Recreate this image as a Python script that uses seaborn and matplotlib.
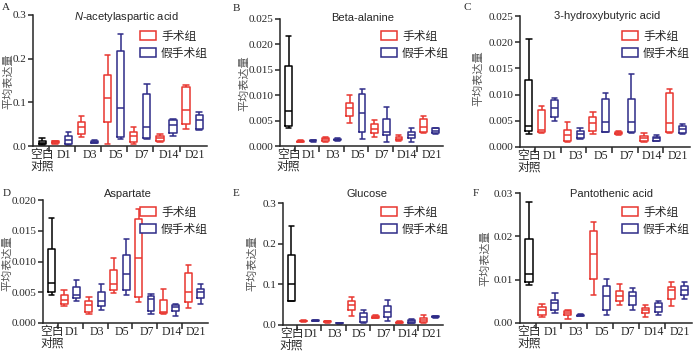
import numpy as np
import pandas as pd
import matplotlib
matplotlib.use("Agg")
import matplotlib.pyplot as plt
from matplotlib.patches import Patch
from matplotlib.ticker import FormatStrFormatter
import seaborn as sns

# categories
days = ["D1", "D3", "D5", "D7", "D14", "D21"]
ctrl_label = "空白\n对照"
groups = ["对照"] + ["手术组", "假手术组"] * 6
slots = ["ctrl"] + [d + g for d in days for g in ("_s", "_sham")]
ylabel = "平均表达量"
letters = ["A", "B", "C", "D", "E", "F"]
titles = ["$\\mathit{N}$-acetylaspartic acid", "Beta-alanine", "3-hydroxybutyric acid",
          "Aspartate", "Glucose", "Pantothenic acid"]

# box stats per slot: [min, q1, median, q3, max]
nacetyl = [
    [0.002, 0.004, 0.008, 0.011, 0.018],
    [0.005, 0.007, 0.009, 0.011, 0.012],
    [0.003, 0.005, 0.013, 0.022, 0.031],
    [0.021, 0.028, 0.044, 0.056, 0.068],
    [0.007, 0.008, 0.010, 0.012, 0.013],
    [0.004, 0.056, 0.110, 0.163, 0.209],
    [0.015, 0.021, 0.087, 0.217, 0.256],
    [0.005, 0.009, 0.024, 0.032, 0.044],
    [0.015, 0.018, 0.044, 0.118, 0.141],
    [0.009, 0.011, 0.018, 0.024, 0.028],
    [0.024, 0.030, 0.047, 0.060, 0.062],
    [0.040, 0.050, 0.082, 0.134, 0.140],
    [0.036, 0.040, 0.059, 0.072, 0.077],
]
beta = [
    [0.0036, 0.0040, 0.0069, 0.0158, 0.0217],
    [0.0007, 0.0008, 0.0009, 0.0010, 0.0011],
    [0.0008, 0.0009, 0.0010, 0.0011, 0.0012],
    [0.0007, 0.0010, 0.0013, 0.0016, 0.0018],
    [0.0009, 0.0011, 0.0012, 0.0014, 0.0016],
    [0.0046, 0.0059, 0.0074, 0.0085, 0.0100],
    [0.0013, 0.0028, 0.0064, 0.0103, 0.0113],
    [0.0018, 0.0025, 0.0034, 0.0043, 0.0052],
    [0.0008, 0.0022, 0.0028, 0.0053, 0.0076],
    [0.0010, 0.0012, 0.0014, 0.0018, 0.0022],
    [0.0008, 0.0015, 0.0022, 0.0028, 0.0035],
    [0.0025, 0.0027, 0.0038, 0.0054, 0.0059],
    [0.0023, 0.0025, 0.0029, 0.0035, 0.0036],
]
hydroxy = [
    [0.0024, 0.0031, 0.0040, 0.0128, 0.0206],
    [0.0026, 0.0028, 0.0032, 0.0071, 0.0079],
    [0.0050, 0.0058, 0.0074, 0.0090, 0.0093],
    [0.0010, 0.0012, 0.0023, 0.0032, 0.0047],
    [0.0015, 0.0018, 0.0024, 0.0031, 0.0036],
    [0.0025, 0.0031, 0.0045, 0.0058, 0.0067],
    [0.0028, 0.0029, 0.0048, 0.0092, 0.0103],
    [0.0023, 0.0025, 0.0027, 0.0029, 0.0031],
    [0.0026, 0.0029, 0.0047, 0.0092, 0.0139],
    [0.0010, 0.0012, 0.0017, 0.0021, 0.0027],
    [0.0011, 0.0012, 0.0017, 0.0020, 0.0022],
    [0.0026, 0.0028, 0.0045, 0.0104, 0.0111],
    [0.0025, 0.0026, 0.0034, 0.0040, 0.0043],
]
aspartate = [
    [0.0045, 0.0051, 0.0065, 0.0121, 0.0171],
    [0.0027, 0.0031, 0.0038, 0.0046, 0.0053],
    [0.0036, 0.0041, 0.0045, 0.0058, 0.0070],
    [0.0015, 0.0018, 0.0030, 0.0035, 0.0042],
    [0.0021, 0.0028, 0.0035, 0.0050, 0.0064],
    [0.0049, 0.0053, 0.0063, 0.0086, 0.0106],
    [0.0045, 0.0053, 0.0080, 0.0110, 0.0137],
    [0.0034, 0.0043, 0.0106, 0.0169, 0.0186],
    [0.0015, 0.0020, 0.0039, 0.0044, 0.0047],
    [0.0015, 0.0016, 0.0018, 0.0038, 0.0056],
    [0.0012, 0.0019, 0.0026, 0.0029, 0.0031],
    [0.0025, 0.0034, 0.0050, 0.0082, 0.0095],
    [0.0031, 0.0040, 0.0050, 0.0056, 0.0063],
]
glucose = [
    [0.058, 0.060, 0.100, 0.173, 0.243],
    [0.008, 0.009, 0.010, 0.011, 0.012],
    [0.009, 0.010, 0.011, 0.012, 0.012],
    [0.005, 0.008, 0.009, 0.010, 0.011],
    [0.003, 0.004, 0.004, 0.005, 0.005],
    [0.023, 0.037, 0.048, 0.058, 0.068],
    [0.004, 0.008, 0.019, 0.030, 0.037],
    [0.016, 0.018, 0.020, 0.022, 0.024],
    [0.011, 0.019, 0.033, 0.047, 0.062],
    [0.005, 0.006, 0.007, 0.008, 0.009],
    [0.004, 0.006, 0.010, 0.013, 0.015],
    [0.006, 0.007, 0.012, 0.018, 0.025],
    [0.017, 0.019, 0.020, 0.021, 0.022],
]
pantothenic = [
    [0.0087, 0.0095, 0.0113, 0.0193, 0.0279],
    [0.0014, 0.0018, 0.0029, 0.0037, 0.0043],
    [0.0023, 0.0029, 0.0046, 0.0054, 0.0069],
    [0.0010, 0.0018, 0.0024, 0.0028, 0.0031],
    [0.0016, 0.0017, 0.0018, 0.0019, 0.0020],
    [0.0064, 0.0101, 0.0159, 0.0213, 0.0233],
    [0.0018, 0.0029, 0.0063, 0.0085, 0.0102],
    [0.0041, 0.0050, 0.0063, 0.0073, 0.0090],
    [0.0031, 0.0041, 0.0063, 0.0072, 0.0080],
    [0.0014, 0.0023, 0.0029, 0.0035, 0.0041],
    [0.0018, 0.0026, 0.0037, 0.0046, 0.0050],
    [0.0039, 0.0056, 0.0076, 0.0084, 0.0094],
    [0.0056, 0.0064, 0.0076, 0.0085, 0.0095],
]
panels = [nacetyl, beta, hydroxy, aspartate, glucose, pantothenic]
ytops = [0.3, 0.025, 0.025, 0.02, 0.3, 0.03]
ysteps = [0.1, 0.005, 0.005, 0.005, 0.1, 0.01]
yfmts = ["%.1f", "%.3f", "%.3f", "%.3f", "%.1f", "%.2f"]

sns.set_style("ticks")
plt.rcParams["font.family"] = ["Liberation Serif", "Noto Sans CJK SC"]
plt.rcParams["mathtext.fontset"] = "custom"
plt.rcParams["mathtext.it"] = "Liberation Sans:italic"
plt.rcParams["mathtext.rm"] = "Liberation Sans"

red = "#e8362f"
blue = "#2e2b88"
pal = {"对照": "black", "手术组": red, "假手术组": blue}

W, H = 700, 353
# axes box in pixels: left, top, right, bottom
boxes = [(33, 15, 207, 146), (280, 19, 443, 146), (520, 16, 690, 147),
         (43, 200, 208, 323), (283, 203, 443, 325), (520, 193, 692, 323)]
title_pos = [(126, 17), (363, 18), (607, 16), (128, 194), (367, 194), (612, 194)]
letter_pos = [(2, 3), (233, 4), (463, 3), (3, 189), (233, 189), (473, 189)]
ylab_pos = [(8, 81), (244, 83), (478, 78), (7, 263), (252, 263), (485, 258)]
leg_pos = [(214, 24), (455, 24), (696, 24), (214, 200), (455, 200), (696, 200)]

fig = plt.figure(figsize=(W / 100, H / 100), dpi=100)

for i, vals in enumerate(panels):
    l, t, r, b = boxes[i]
    ax = fig.add_axes([l / W, 1 - b / H, (r - l) / W, (b - t) / H])
    # five points per slot reproduce min/q1/median/q3/max exactly
    rows = []
    for s, g, v in zip(slots, groups, vals):
        for x in v:
            rows.append({"slot": s, "group": g, "value": x})
    df = pd.DataFrame(rows)
    sns.boxplot(data=df, x="slot", y="value", hue="group", order=slots,
                hue_order=["对照", "手术组", "假手术组"], palette=pal,
                fill=False, dodge=False, whis=(0, 100), width=0.55,
                linewidth=1.1, legend=False, capwidths=0.42, ax=ax)
    ax.set_xlim(-0.7, 12.6)
    ax.set_ylim(0, ytops[i])
    ax.set_yticks(np.arange(0, ytops[i] + ysteps[i] / 2, ysteps[i]))
    ax.yaxis.set_major_formatter(FormatStrFormatter(yfmts[i]))
    ax.set_xticks([0.5, 2.5, 4.5, 6.5, 8.5, 10.5])
    ax.set_xticklabels([])
    ax.set_xticks([0, 1.65, 3.65, 5.65, 7.65, 9.65, 11.65], [ctrl_label] + days, minor=True)
    ax.tick_params(axis="x", which="minor", length=0, pad=2.5, labelsize=8.5)
    ax.tick_params(axis="x", which="major", length=4, width=1.1)
    ax.tick_params(axis="y", length=3.5, width=1.1, labelsize=8, pad=1.5)
    ax.xaxis.get_minorticklabels()[0].set_linespacing(0.95)
    ax.set_xlabel("")
    ax.set_ylabel("")
    sns.despine(ax=ax)
    for sp in ax.spines.values():
        sp.set_linewidth(1.1)

    tx, ty = title_pos[i]
    fig.text(tx / W, 1 - ty / H, titles[i], ha="center", va="center",
             fontsize=8, family="Liberation Sans")
    lx, ly = letter_pos[i]
    fig.text(lx / W, 1 - ly / H, letters[i], ha="left", va="top", fontsize=8)
    yx, yy = ylab_pos[i]
    fig.text(yx / W, 1 - yy / H, ylabel, rotation=90, ha="center", va="center",
             fontsize=8, color="#555555", family=["Noto Sans CJK SC"])
    handles = [Patch(facecolor="white", edgecolor=red, linewidth=1.1),
               Patch(facecolor="white", edgecolor=blue, linewidth=1.1)]
    gx, gy = leg_pos[i]
    ax.legend(handles, ["手术组", "假手术组"], loc="upper right",
              bbox_to_anchor=(gx / W, 1 - gy / H), bbox_transform=fig.transFigure,
              frameon=False, borderpad=0, handlelength=1.4,
              handleheight=0.8, handletextpad=0.4, labelspacing=0.35,
              prop={"family": ["Noto Sans CJK SC"], "size": 8.5})

fig.savefig("out.png", dpi=100)
